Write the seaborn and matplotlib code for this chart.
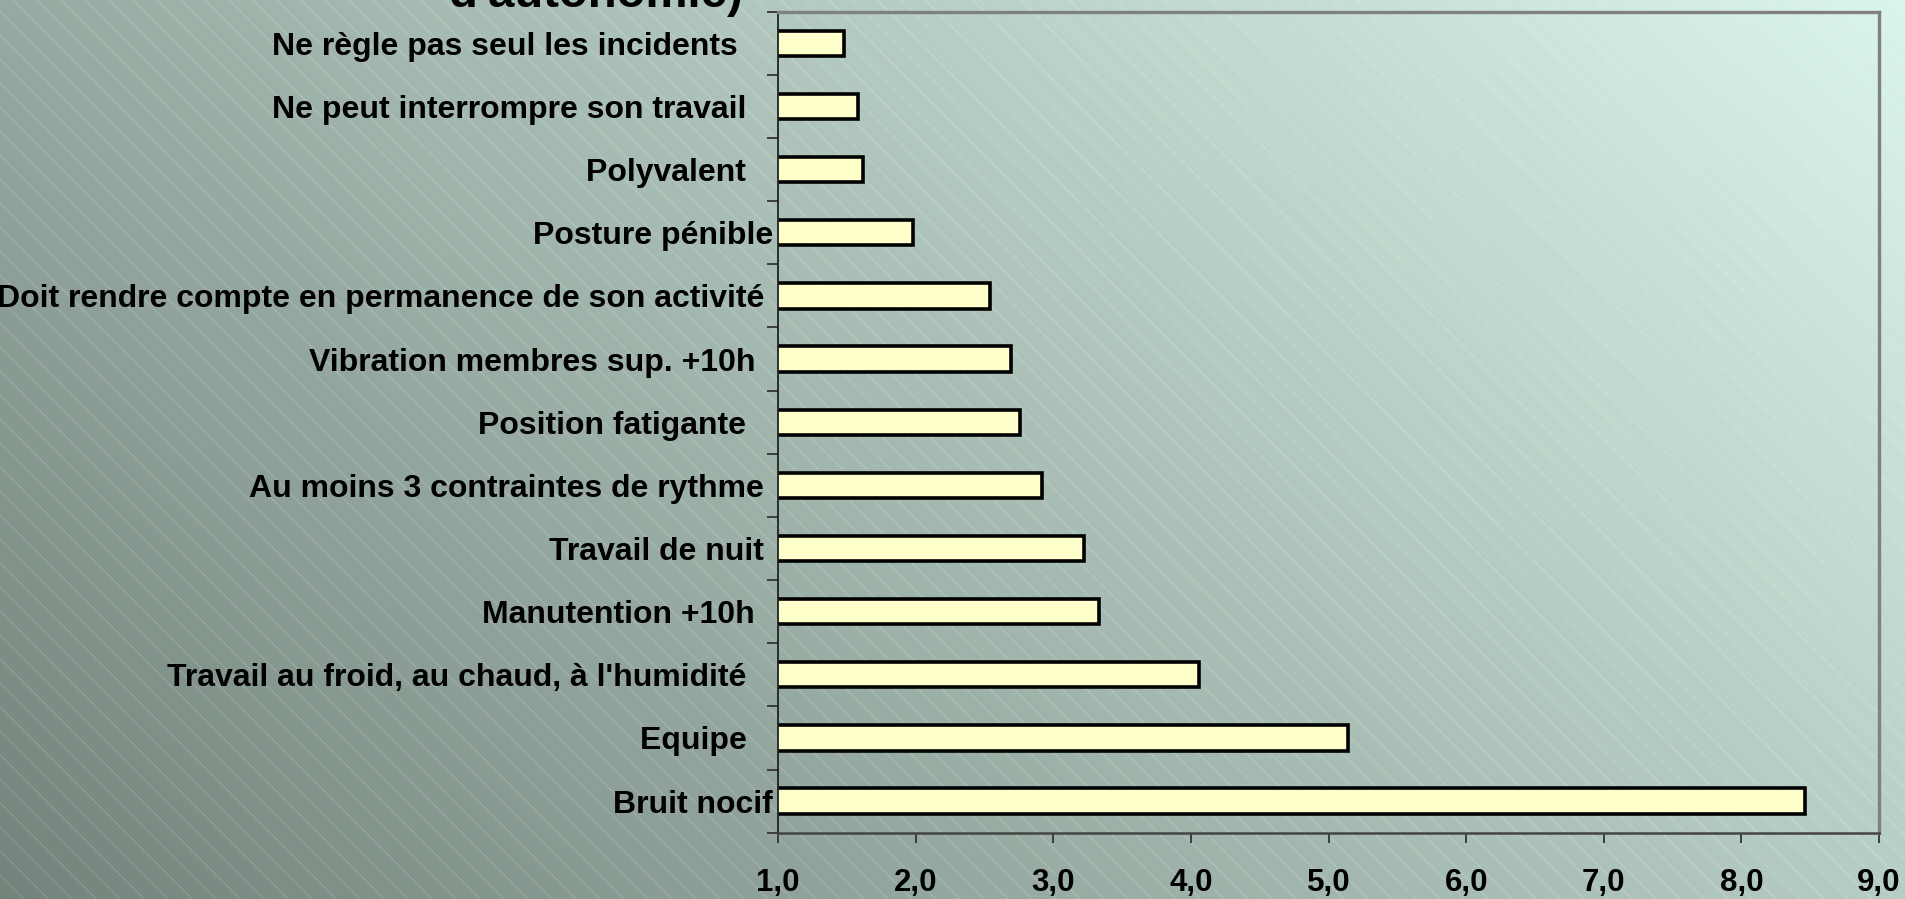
import numpy as np
import matplotlib
matplotlib.use("Agg")
import matplotlib.pyplot as plt
import seaborn as sns
from matplotlib.colors import LinearSegmentedColormap

# Risk factors (top to bottom) and their values
categories = [
    "Ne règle pas seul les incidents    ",
    "Ne peut interrompre son travail   ",
    "Polyvalent   ",
    "Posture pénible",
    "Doit rendre compte en permanence de son activité ",
    "Vibration membres sup. +10h  ",
    "Position fatigante   ",
    "Au moins 3 contraintes de rythme ",
    "Travail de nuit ",
    "Manutention +10h  ",
    "Travail au froid, au chaud, à l'humidité   ",
    "Equipe   ",
    "Bruit nocif",
]
values = [1.48, 1.58, 1.62, 1.98, 2.54, 2.69, 2.76, 2.92, 3.22, 3.33, 4.06, 5.14, 8.46]
x_ticks = [1, 2, 3, 4, 5, 6, 7, 8, 9]
x_tick_labels = ["1,0", "2,0", "3,0", "4,0", "5,0", "6,0", "7,0", "8,0", "9,0"]
title_tail = "d'autonomie)"

sns.set_style("white")
plt.rcParams["font.family"] = ["Liberation Sans", "DejaVu Sans"]
plt.rcParams["font.weight"] = "bold"

W, H = 1905, 899
fig = plt.figure(figsize=(W / 100, H / 100), dpi=100)

# Background: diagonal gradient with thin light hatch lines
bg = fig.add_axes([0, 0, 1, 1], zorder=0)
bg.set_axis_off()
gy, gx = np.mgrid[0:1:300j, 0:1:600j]
grad = 0.65 * gx + 0.35 * gy
cmap = LinearSegmentedColormap.from_list("bg", ["#74837b", "#daf5ea"])
bg.imshow(grad, cmap=cmap, origin="lower", extent=[0, W, 0, H],
          aspect="auto", interpolation="bilinear")
for i, c in enumerate(np.arange(0, W + H + 25, 24)):
    bg.plot([c - H, c], [H, 0], color="white", lw=0.8,
            alpha=0.3 if i % 2 == 0 else 0.16,
            ls=(0, (1.2, 0.6)) if i % 2 == 0 else "-")
bg.set_xlim(0, W)
bg.set_ylim(0, H)

# Chart area
left, right, top, bottom = 778, 1879, 11.7, 832.7
ax = fig.add_axes([left / W, 1 - bottom / H, (right - left) / W, (bottom - top) / H], zorder=1)
ax.patch.set_alpha(0)

sns.barplot(x=values, y=categories, orient="h", color="#ffffcc", saturation=1,
            edgecolor="black", linewidth=2.6, width=0.4, ax=ax)

ax.set_xlim(1, 9)
ax.set_xticks(x_ticks)
ax.set_xticklabels(x_tick_labels)
ax.set_xlabel("")
ax.set_ylabel("")

ax.set_yticks(np.arange(-0.5, len(categories)), minor=True)
ax.tick_params(axis="y", which="major", length=0, pad=3.6, labelsize=23)
ax.tick_params(axis="y", which="minor", length=8, width=1.3, color="#333333", direction="out", left=True)
ax.tick_params(axis="x", which="major", length=7.5, width=1.3, color="#333333", direction="out",
               bottom=True, pad=18, labelsize=22.5)
for lab in ax.get_xticklabels() + ax.get_yticklabels():
    lab.set_fontweight("bold")
    lab.set_color("black")

for side in ["top", "right"]:
    ax.spines[side].set_visible(True)
    ax.spines[side].set_color("#808080")
    ax.spines[side].set_linewidth(2.4)
ax.spines["left"].set_color("#222222")
ax.spines["left"].set_linewidth(1.3)
ax.spines["bottom"].set_color("#444444")
ax.spines["bottom"].set_linewidth(1.8)

fig.text(595 / W, 1 - 7 / H, title_tail, ha="center", va="baseline",
         fontsize=34, fontweight="bold", color="black")

fig.savefig("out.png", dpi=100)
